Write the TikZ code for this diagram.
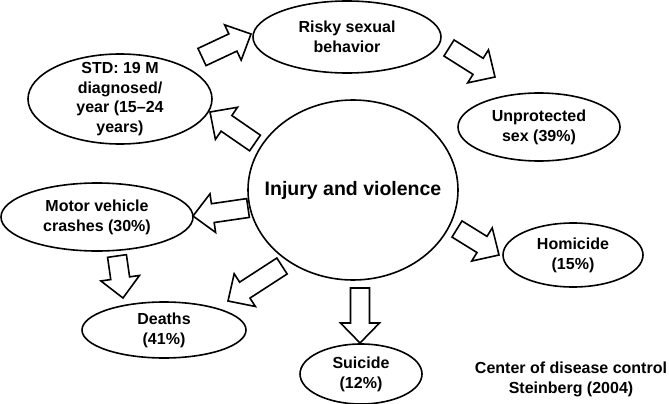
\documentclass[tikz,border=0pt]{standalone}
\usepackage{fontspec}
\setmainfont{Liberation Sans}
\usetikzlibrary{calc}

\tikzset{
  lbl/.style={font=\bfseries\fontsize{16}{19.8}\selectfont, align=center, inner sep=0pt},
  oval/.style={line width=1.6pt},
  fatarrow/.style={line width=1.6pt, line join=miter, fill=white},
}
% hollow block arrow from #1 to #2
\newcommand{\hollowarrow}[2]{%
  \coordinate (neck) at ($(#2)!20pt!(#1)$);
  \draw[fatarrow] ($(#1)!9.5pt!90:(#2)$) -- ($(neck)!9.5pt!90:(#2)$) -- ($(neck)!19.5pt!90:(#2)$)
    -- (#2) -- ($(neck)!19.5pt!-90:(#2)$) -- ($(neck)!9.5pt!-90:(#2)$) -- ($(#1)!9.5pt!-90:(#2)$) -- cycle;
}

\begin{document}
\begin{tikzpicture}[x=1pt,y=-1pt]
    \useasboundingbox (0,0) rectangle (669,404);
    \node[lbl, font=\bfseries\fontsize{19.5}{23}\selectfont] (injury) at (353,190) {Injury and violence};
    \draw[oval] (injury) ellipse [x radius=105, y radius=90];
    \node[lbl] (std) at (120,99) {STD: 19 M\\diagnosed/\\year (15--24\\years)};
    \draw[oval] (std) ellipse [x radius=92, y radius=45];
    \node[lbl] (risky) at (347,37) {Risky sexual\\behavior};
    \draw[oval] (risky) ellipse [x radius=94, y radius=36];
    \node[lbl] (unprot) at (539,127) {Unprotected\\sex (39\%)};
    \draw[oval] (unprot) ellipse [x radius=81, y radius=34];
    \node[lbl] (motor) at (97,217) {Motor vehicle\\crashes (30\%)};
    \draw[oval] (motor) ellipse [x radius=96, y radius=34];
    \node[lbl] (deaths) at (164,330) {Deaths\\(41\%)};
    \draw[oval] (deaths) ellipse [x radius=82, y radius=28];
    \node[lbl] (suicide) at (361,374) {Suicide\\(12\%)};
    \draw[oval] (suicide) ellipse [x radius=61, y radius=30];
    \node[lbl] (homicide) at (573,255) {Homicide\\(15\%)};
    \draw[oval] (homicide) ellipse [x radius=70, y radius=32];
    \node[lbl] (source) at (571,379) {Center of disease control\\Steinberg (2004)};

    % arrow ends
    \coordinate (std-out) at (202,57);      \coordinate (risky-in) at (251,34);
    \coordinate (risky-out) at (449,48);    \coordinate (unprot-in) at (495,77);
    \coordinate (inj-std) at (255,143);     \coordinate (std-in) at (210,112);
    \coordinate (inj-motor) at (248,208);   \coordinate (motor-in) at (193,216);
    \coordinate (motor-out) at (117,256);   \coordinate (deaths-top) at (123,298);
    \coordinate (inj-deaths) at (282,266);  \coordinate (deaths-in) at (228,301);
    \coordinate (inj-suicide) at (360,288); \coordinate (suicide-in) at (360,343);
    \coordinate (inj-hom) at (457,229);     \coordinate (hom-in) at (499,255);

    \hollowarrow{std-out}{risky-in}
    \hollowarrow{risky-out}{unprot-in}
    \hollowarrow{inj-std}{std-in}
    \hollowarrow{inj-motor}{motor-in}
    \hollowarrow{motor-out}{deaths-top}
    \hollowarrow{inj-deaths}{deaths-in}
    \hollowarrow{inj-suicide}{suicide-in}
    \hollowarrow{inj-hom}{hom-in}
\end{tikzpicture}
\end{document}
